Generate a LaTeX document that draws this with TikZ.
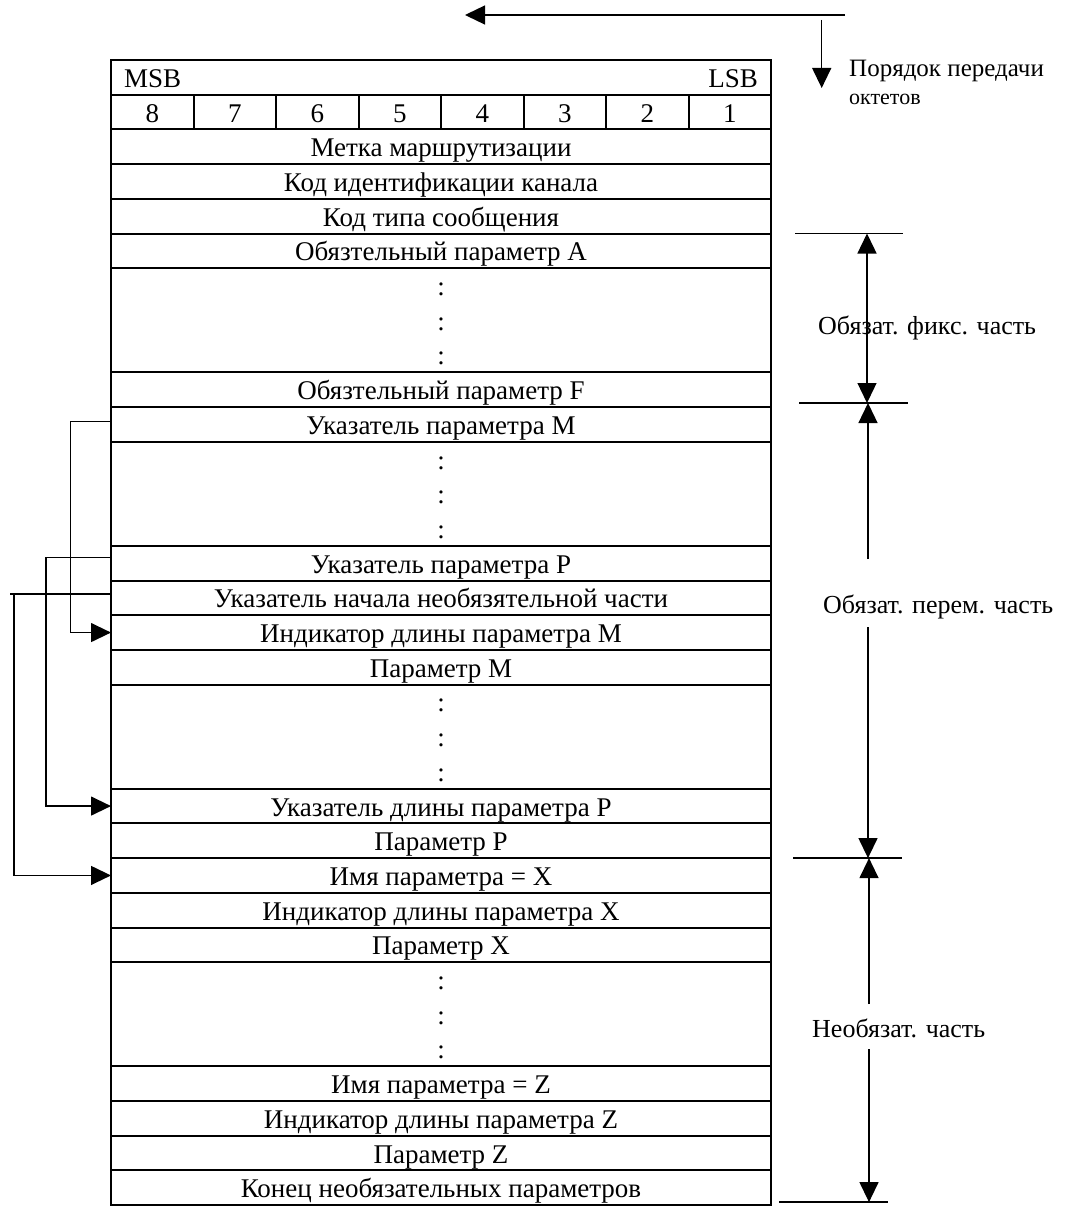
\documentclass[tikz,border=0pt]{standalone}
\usepackage{fontspec}
\setmainfont{Liberation Serif}
\usetikzlibrary{arrows.meta}
\begin{document}
\begin{tikzpicture}[x=1pt,y=-1pt,
  row/.style={draw,line width=2pt,minimum width=660pt,minimum height=34.7pt,inner sep=0pt,outer sep=0pt,
    font=\fontsize{27}{32}\selectfont,text height=27.35pt,text depth=7.35pt},
  tall/.style={row,minimum height=104.1pt},
  bitcell/.style={row,minimum width=82.5pt},
  dotlbl/.style={inner sep=0pt,font=\fontsize{27}{32}\selectfont,text height=27.35pt,text depth=7.35pt},
  sidelbl/.style={inner sep=0pt,font=\fontsize{26}{30}\selectfont},
  conn/.style={line width=1.3pt},
  arr/.style={-{Triangle[length=20pt,width=19pt]}},
  darr/.style={{Triangle[length=20pt,width=19pt]}-{Triangle[length=20pt,width=19pt]}}
]
\useasboundingbox (0,0) rectangle (1065,1207);

% header rows
\node[row] (msb) at (441,77.35) {};
\node[dotlbl,anchor=west] (msbt) at (124,77.35) {MSB};
\node[dotlbl,anchor=east] (lsbt) at (758,77.35) {LSB};
\foreach \k/\d in {1/8,2/7,3/6,4/5,5/4,6/3,7/2,8/1}{
  \node[bitcell] (b\d) at ({111+82.5*(\k-0.5)},112.05) {\d};
}
\node[row] (metka) at (441,146.75) {Метка маршрутизации};
\node[row] (kodid) at (441,181.45) {Код идентификации канала};
\node[row] (kodtip) at (441,216.15) {Код типа сообщения};
\node[row] (obA) at (441,250.85) {Обязтельный параметр A};
\node[tall] (dots1) at (441,320.25) {};
\node[row] (obF) at (441,389.65) {Обязтельный параметр F};
\node[row] (mptr) at (441,424.35) {Указатель параметра M};
\node[tall] (dots2) at (441,493.75) {};
\node[row] (pptr) at (441,563.15) {Указатель параметра P};
\node[row] (nach) at (441,597.85) {Указатель начала необязятельной части};
\node[row] (indm) at (441,632.55) {Индикатор длины параметра M};
\node[row] (parm) at (441,667.25) {Параметр M};
\node[tall] (dots3) at (441,736.65) {};
\node[row] (ukdlp) at (441,806.05) {Указатель длины параметра P};
\node[row] (parp) at (441,840.75) {Параметр P};
\node[row] (imyax) at (441,875.45) {Имя параметра = X};
\node[row] (indx) at (441,910.15) {Индикатор длины параметра X};
\node[row] (parx) at (441,944.85) {Параметр X};
\node[tall] (dots4) at (441,1014.25) {};
\node[row] (imyaz) at (441,1083.65) {Имя параметра = Z};
\node[row] (indz) at (441,1118.35) {Индикатор длины параметра Z};
\node[row] (parz) at (441,1153.05) {Параметр Z};
\node[row] (konec) at (441,1187.75) {Конец необязательных параметров};

% colons
\foreach \n/\c in {1/320.25,2/493.75,3/736.65,4/1014.25}{
  \node[dotlbl] (c\n a) at (441,\c-34.7) {:};
  \node[dotlbl] (c\n b) at (441,\c) {:};
  \node[dotlbl] (c\n c) at (441,\c+34.7) {:};
}

% left pointer connectors
\draw[conn,arr] ([yshift=2.6pt]mptr.west) -- ++(-40.3,0) |- (indm.west);
\draw[conn,arr] ([yshift=5.4pt]pptr.west) -- ++(-65,0) |- (ukdlp.west);
\coordinate (n1) at ([yshift=4pt]nach.west);
\draw[conn] (n1) -- ++(-101,0);
\draw[conn,arr] ([xshift=-97pt]n1) |- (imyax.west);

% top: transmission order
\coordinate (tA) at (845,15);
\coordinate (tB) at (465,15);
\draw[conn,arr] (tA) -- (tB);
\coordinate (vA) at (821.7,20);
\coordinate (vB) at (821.7,88);
\draw[conn,arr] (vA) -- (vB);
\node[sidelbl,anchor=base west,font=\fontsize{25}{29}\selectfont] (ord1) at (849,77) {Порядок передачи};
\node[sidelbl,anchor=base west,font=\fontsize{22}{26}\selectfont] (ord2) at (849,104) {октетов};

% right brackets
\coordinate (f1) at (kodtip.south east);
\draw[conn] ([xshift=24pt]f1) -- ([xshift=132pt]f1);
\coordinate (f2) at ([yshift=4pt]obF.south east);
\draw[conn] ([xshift=28pt]f2) -- ([xshift=137pt]f2);
\draw[conn,darr] ([xshift=96pt]f1) -- ([xshift=96pt]f2);
\node[sidelbl,anchor=west] (fixl) at (818,328) {Обязат. фикс. часть};

\coordinate (f3) at (parp.south east);
\draw[conn] ([xshift=22pt]f3) -- ([xshift=131pt]f3);
\coordinate (vgT) at (868,559);
\coordinate (vgB) at (868,627);
\draw[conn,arr] (vgT) -- (vgT |- f2);
\draw[conn,arr] (vgB) -- (vgB |- f3);
\node[sidelbl,anchor=west] (varl) at (823,607) {Обязат. перем. часть};

\coordinate (f4) at ([yshift=3pt]konec.south east);
\draw[conn] ([xshift=8pt]f4) -- ([xshift=117pt]f4);
\coordinate (ogT) at (869,1004);
\coordinate (ogB) at (869,1049);
\draw[conn,arr] (ogT) -- (ogT |- f3);
\draw[conn,arr] (ogB) -- (ogB |- f4);
\node[sidelbl,anchor=west] (optl) at (812,1028) {Необязат. часть};
\end{tikzpicture}
\end{document}
